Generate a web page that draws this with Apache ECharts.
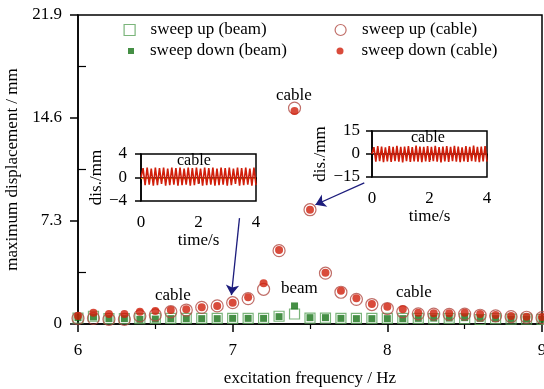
<!DOCTYPE html>
<html>
<head>
<meta charset="utf-8">
<script src="https://cdn.jsdelivr.net/npm/echarts@6/dist/echarts.min.js"></script>
<style>html,body{margin:0;padding:0;background:#fff}#c{width:544px;height:389px}</style>
</head>
<body>
<div id="c"></div>
<script>
// ---- data ----
var freqs = [6.0,6.1,6.2,6.3,6.4,6.5,6.6,6.7,6.8,6.9,7.0,7.1,7.2,7.3,7.4,7.5,7.6,7.7,7.8,7.9,8.0,8.1,8.2,8.3,8.4,8.5,8.6,8.7,8.8,8.9,9.0];
var beamUp   = [0.42,0.55,0.38,0.38,0.38,0.40,0.40,0.40,0.40,0.40,0.40,0.40,0.40,0.55,0.71,0.42,0.42,0.40,0.40,0.40,0.40,0.40,0.40,0.38,0.40,0.38,0.32,0.38,0.35,0.35,0.33];
var beamDown = [0.45,0.50,0.38,0.38,0.33,0.35,0.38,0.38,0.38,0.38,0.40,0.40,0.40,0.52,1.28,0.45,0.45,0.40,0.38,0.38,0.38,0.38,0.40,0.42,0.42,0.45,0.40,0.38,0.35,0.35,0.33];
var cableUp  = [0.40,0.40,0.33,0.33,0.57,0.64,0.87,0.99,1.18,1.28,1.51,1.80,2.46,5.20,15.3,8.1,3.60,2.25,1.75,1.38,1.10,0.87,0.72,0.70,0.68,0.70,0.62,0.58,0.52,0.48,0.45];
var cableDown= [0.57,0.80,0.71,0.71,0.87,0.92,0.99,1.04,1.18,1.28,1.51,1.89,2.88,5.25,15.1,8.1,3.64,2.36,1.82,1.42,1.23,1.04,0.80,0.76,0.76,0.80,0.71,0.64,0.57,0.52,0.50];
var xTicks = [6,7,8,9];
var yTicks = [0,7.3,14.6,21.9];
var yMinorTicks = [3.65,10.95,18.25];
// inset time signals (peaks/troughs over 0-4 s)
var sig7Hz = [0,1.6,-1.3,1.7,-1.2,1.5,-1.4,1.7,-1.3,1.6,-1.1,1.7,-1.4,1.5,-1.3,1.7,-1.2,1.6,-1.4,1.7,-1.3,1.5,-1.2,1.7,-1.4,1.6,-1.3,1.7,-1.1,1.5,-1.4,1.7,-1.3,1.6,-1.2,1.7,-1.4,1.5,-1.3,1.7,-1.2,1.6,-1.4,1.7,-1.3,1.5,-1.1,1.7,-1.4,1.6,-1.3,1.7,-1.2,1.5,-1.4,1.7,-1.3];
var base7Hz = [-0.2,-0.1,-0.25,-0.15,-0.2,-0.1,-0.25,-0.15,-0.2,-0.1,-0.25,-0.15,-0.2,-0.1,-0.25,-0.15,-0.2];
var sig75Hz = [0,4.5,-5.0,5.2,-4.6,4.8,-5.3,4.4,-4.9,5.1,-5.2,4.6,-4.7,5.3,-5.0,4.7,-5.4,4.9,-4.6,5.2,-5.1,4.5,-4.8,5.4,-5.0,4.8,-5.3,4.6,-4.9,5.1,-5.2,4.7,-4.7,5.3,-5.0,4.5,-5.4,4.9,-4.8,5.2,-5.1,4.6,-4.7,5.3,-5.0,4.8,-5.3,4.4,-4.9,5.1,-5.2,4.7,-4.6,5.4,-5.0,4.6,-5.3,4.9,-4.8,5.2,-5.0];
var inset1Y = [-4,0,4];
var inset2Y = [-15,0,15];
var insetX = [0,2,4];
var tEnd = 4;

function pairs(xs, ys){ return xs.map(function(x,i){return [x, ys[i]];}); }
function timed(vals){ var n = vals.length-1; return vals.map(function(v,i){return [tEnd*i/n, v];}); }

var FONT = 'Liberation Serif, Times New Roman, serif';
var RED = '#d01e0a', RED_O = '#b04a42', GRN = '#177317', GRN_O = '#5aa35a', ARROW = '#1c1c7c';

function minusFmt(v){ return String(v).replace('-', '\u2212'); }

var chart = echarts.init(document.getElementById('c'), null, {renderer:'canvas'});
var txt = {fontFamily: FONT, fontSize: 17, color: '#000'};

function legendItem(name, left, top, w, h, icon, style, pad){
  return {
    left: left, top: top, orient: 'vertical', padding: 0,
    itemWidth: w, itemHeight: h, selectedMode: false,
    textStyle: {fontFamily: FONT, fontSize: 17, color: '#000', lineHeight: 18, padding: [0,0,0,pad]},
    data: [{name: name, icon: icon, itemStyle: style}]
  };
}

var option = {
  animation: false,
  backgroundColor: '#fff',
  legend: [
    legendItem('sweep up (beam)', 123.5, 21, 11, 11, 'rect', {color:'rgba(0,0,0,0)', borderColor: GRN_O, borderWidth: 1.2}, 10.5),
    legendItem('sweep down (beam)', 128, 42, 6, 6, 'rect', {color: GRN, borderWidth: 0}, 11),
    legendItem('sweep up (cable)', 334.5, 21, 11, 11, 'circle', {color:'rgba(0,0,0,0)', borderColor: RED_O, borderWidth: 1.2}, 11),
    legendItem('sweep down (cable)', 336.5, 42, 7, 7, 'circle', {color: RED, borderWidth: 0}, 13)
  ],
  grid: [
    {left: 78, right: 2, top: 15, bottom: 65, show: true, borderColor: '#000', borderWidth: 1.5, backgroundColor: 'rgba(0,0,0,0)', outerBoundsMode: 'none', containLabel: false},
    {left: 141, top: 154, width: 115, height: 47, show: true, borderColor: '#000', borderWidth: 1.5, outerBoundsMode: 'none', containLabel: false},
    {left: 372, top: 131, width: 115, height: 46, show: true, borderColor: '#000', borderWidth: 1.5, outerBoundsMode: 'none', containLabel: false}
  ],
  xAxis: [
    {gridIndex: 0, type: 'value', min: 6, max: 9, interval: 1,
     name: 'excitation frequency / Hz', nameLocation: 'middle', nameGap: 46, nameTextStyle: txt,
     axisLine: {lineStyle: {color: '#000', width: 1.5}},
     axisTick: {inside: false, length: 8, lineStyle: {color: '#000', width: 1.5}, customValues: xTicks},
     minorTick: {show: true, splitNumber: 2, length: 5, lineStyle: {color: '#000', width: 1.2}},
     axisLabel: Object.assign({margin: 18, customValues: xTicks}, txt),
     splitLine: {show: false}},
    {gridIndex: 1, type: 'value', min: 0, max: 4, interval: 2,
     name: 'time/s', nameLocation: 'middle', nameGap: 28, nameTextStyle: txt,
     axisLine: {lineStyle: {color: '#000', width: 1.5}},
     axisTick: {length: 6, lineStyle: {color: '#000', width: 1.5}, customValues: insetX},
     axisLabel: Object.assign({margin: 13, customValues: insetX}, txt),
     splitLine: {show: false}},
    {gridIndex: 2, type: 'value', min: 0, max: 4, interval: 2,
     name: 'time/s', nameLocation: 'middle', nameGap: 30, nameTextStyle: txt,
     axisLine: {lineStyle: {color: '#000', width: 1.5}},
     axisTick: {length: 6, lineStyle: {color: '#000', width: 1.5}, customValues: insetX},
     axisLabel: Object.assign({margin: 13, customValues: insetX}, txt),
     splitLine: {show: false}}
  ],
  yAxis: [
    {gridIndex: 0, type: 'value', min: 0, max: 21.9, interval: 7.3,
     name: 'maximum displacement / mm', nameLocation: 'middle', nameGap: 45, nameTextStyle: txt,
     axisLine: {lineStyle: {color: '#000', width: 1.5}},
     axisTick: {inside: false, length: 8, lineStyle: {color: '#000', width: 1.5}, customValues: yTicks},
     axisLabel: Object.assign({margin: 16, customValues: yTicks}, txt),
     splitLine: {show: false}},
    {gridIndex: 0, type: 'value', min: 0, max: 21.9, position: 'left',
     axisLine: {show: false},
     axisTick: {show: true, inside: true, length: 8, lineStyle: {color: '#000', width: 1.2}, customValues: yMinorTicks},
     axisLabel: {show: false}, splitLine: {show: false}},
    {gridIndex: 1, type: 'value', min: -4, max: 4, interval: 4,
     name: 'dis./mm', nameLocation: 'middle', nameGap: 32, nameTextStyle: txt,
     axisLine: {lineStyle: {color: '#000', width: 1.5}},
     axisTick: {length: 6, lineStyle: {color: '#000', width: 1.5}, customValues: inset1Y},
     axisLabel: Object.assign({margin: 14, customValues: inset1Y, formatter: minusFmt}, txt),
     splitLine: {show: false}},
    {gridIndex: 2, type: 'value', min: -15, max: 15, interval: 15,
     name: 'dis./mm', nameLocation: 'middle', nameGap: 37, nameTextStyle: txt,
     axisLine: {lineStyle: {color: '#000', width: 1.5}},
     axisTick: {length: 6, lineStyle: {color: '#000', width: 1.5}, customValues: inset2Y},
     axisLabel: Object.assign({margin: 12, customValues: inset2Y, formatter: minusFmt}, txt),
     splitLine: {show: false}}
  ],
  series: [
    {name: 'sweep up (beam)', type: 'scatter', xAxisIndex: 0, yAxisIndex: 0, symbol: 'rect', symbolSize: 10,
     itemStyle: {color: 'rgba(0,0,0,0)', borderColor: GRN_O, borderWidth: 1.2}, data: pairs(freqs, beamUp), z: 2},
    {name: 'sweep down (beam)', type: 'scatter', xAxisIndex: 0, yAxisIndex: 0, symbol: 'rect', symbolSize: 7,
     itemStyle: {color: GRN}, data: pairs(freqs, beamDown), z: 3},
    {name: 'sweep up (cable)', type: 'scatter', xAxisIndex: 0, yAxisIndex: 0, symbol: 'circle', symbolSize: 12,
     itemStyle: {color: 'rgba(0,0,0,0)', borderColor: RED_O, borderWidth: 1.2}, data: pairs(freqs, cableUp), z: 4},
    {name: 'sweep down (cable)', type: 'scatter', xAxisIndex: 0, yAxisIndex: 0, symbol: 'circle', symbolSize: 8,
     itemStyle: {color: RED}, data: pairs(freqs, cableDown), z: 5},
    {type: 'line', xAxisIndex: 0, yAxisIndex: 0, data: [], z: 8,
     markLine: {silent: true, symbol: ['none','arrow'], symbolSize: 10, label: {show: false},
       lineStyle: {color: ARROW, width: 1.3, type: 'solid'},
       itemStyle: {color: ARROW},
       emphasis: {disabled: true},
       data: [
         [{coord: [7.044, 7.5]}, {coord: [6.992, 2.05]}],
         [{coord: [7.851, 10.0]}, {coord: [7.535, 8.45]}]
       ]}},
    {type: 'line', xAxisIndex: 1, yAxisIndex: 2, showSymbol: false, data: timed(base7Hz),
     lineStyle: {color: '#f0a030', width: 1}, z: 3},
    {type: 'line', xAxisIndex: 1, yAxisIndex: 2, showSymbol: false, data: timed(sig7Hz),
     lineStyle: {color: RED, width: 1.6}, z: 4},
    {type: 'line', xAxisIndex: 2, yAxisIndex: 3, showSymbol: false, data: timed(sig75Hz),
     lineStyle: {color: RED, width: 1.6}, z: 4}
  ],
  graphic: [
    {type: 'text', left: 276, top: 87, style: {text: 'cable', font: '17px ' + FONT, fill: '#000'}},
    {type: 'text', left: 155, top: 287, style: {text: 'cable', font: '17px ' + FONT, fill: '#000'}},
    {type: 'text', left: 396, top: 284, style: {text: 'cable', font: '17px ' + FONT, fill: '#000'}},
    {type: 'text', left: 281, top: 280, style: {text: 'beam', font: '17px ' + FONT, fill: '#000'}},
    {type: 'text', left: 177, top: 153, z: 10, style: {text: 'cable', font: '16px ' + FONT, fill: '#000'}},
    {type: 'text', left: 411, top: 130, z: 10, style: {text: 'cable', font: '16px ' + FONT, fill: '#000'}}
  ]
};
chart.setOption(option);
</script>
</body>
</html>
